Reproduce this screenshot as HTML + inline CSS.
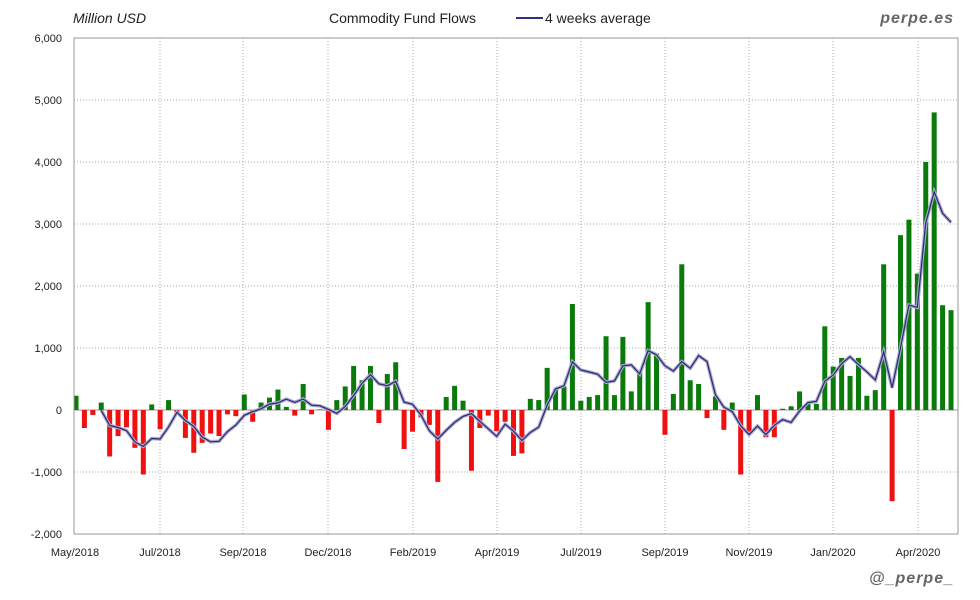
<!DOCTYPE html>
<html><head><meta charset="utf-8"><style>
body{margin:0;background:#fff;}
svg{display:block;font-family:"Liberation Sans",sans-serif;}
</style></head><body>
<svg id="s" width="980" height="600" xmlns="http://www.w3.org/2000/svg">
<rect width="980" height="600" fill="#fff"/>
<text x="73" y="23" font-size="14" font-style="italic" fill="#222">Million USD</text>
<text x="329" y="23" font-size="14" fill="#222">Commodity Fund Flows</text>
<line x1="516" y1="18" x2="543" y2="18" stroke="#33337a" stroke-width="2"/>
<text x="545" y="23" font-size="14" fill="#222">4 weeks average</text>
<text x="954" y="23" font-size="16" font-style="italic" font-weight="bold" fill="#666" text-anchor="end" letter-spacing="1">perpe.es</text>
<text x="954" y="583" font-size="16" font-style="italic" font-weight="bold" fill="#666" text-anchor="end" letter-spacing="1">@_perpe_</text>
<g id="g"></g>
</svg>
<script>
var v=[230,-290,-80,120,-750,-420,-280,-610,-1040,90,-310,160,-80,-450,-690,-530,-380,-420,-70,-100,250,-190,120,200,330,50,-90,420,-70,10,-320,160,380,710,480,710,-210,580,770,-630,-350,-120,-240,-1160,210,390,150,-980,-290,-90,-340,-190,-740,-700,180,160,680,340,380,1710,150,210,240,1190,240,1180,300,610,1740,910,-400,260,2350,480,420,-130,220,-320,120,-1040,-350,240,-440,-440,20,60,300,100,100,1350,700,840,550,840,230,320,2350,-1470,2820,3070,2200,4000,4800,1690,1610];
var L=74,R=958,T=38,B=534;
function Y(x){return 410-x*0.062;}
var h='';
for(var k=-2000;k<=6000;k+=1000){var y=Y(k);
 if(k>-2000&&k<6000)h+='<line x1="'+L+'" y1="'+y+'" x2="'+R+'" y2="'+y+'" stroke="#aaa" stroke-dasharray="1,2"/>';
 h+='<text x="62" y="'+(y+4)+'" font-size="11" fill="#222" text-anchor="end">'+(k<0?'-':'')+(Math.abs(k)>=1000?Math.floor(Math.abs(k)/1000)+','+'000':'0')+'</text>';}
var xl=[[75,'May/2018'],[160,'Jul/2018'],[243,'Sep/2018'],[328,'Dec/2018'],[413,'Feb/2019'],[497,'Apr/2019'],[581,'Jul/2019'],[665,'Sep/2019'],[749,'Nov/2019'],[833,'Jan/2020'],[918,'Apr/2020']];
xl.forEach(function(a,i){if(i>0)h+='<line x1="'+a[0]+'" y1="'+T+'" x2="'+a[0]+'" y2="'+B+'" stroke="#aaa" stroke-dasharray="1,2"/>';
 h+='<text x="'+a[0]+'" y="556" font-size="11" fill="#222" text-anchor="middle">'+a[1]+'</text>';});
h+='<line x1="'+L+'" y1="410" x2="'+R+'" y2="410" stroke="#999"/>';
var n=v.length,st=875/(n-1);
for(var i=0;i<n;i++){var x=76+i*st,y=Y(v[i]);
 h+='<rect x="'+(x-2.5)+'" y="'+Math.min(y,410)+'" width="5" height="'+Math.abs(410-y)+'" fill="'+(v[i]>=0?'#0a7a0a':'#f01010')+'"/>';}
var p='';
for(var i=3;i<n;i++){var a=(v[i]+v[i-1]+v[i-2]+v[i-3])/4;p+=(i==3?'M':'L')+(76+i*st).toFixed(1)+','+Y(a).toFixed(1);}
h+='<path d="'+p+'" fill="none" stroke="#a8a8d0" stroke-width="3.5"/><path d="'+p+'" fill="none" stroke="#2a2a70" stroke-width="1.2"/>';
h+='<rect x="'+L+'" y="'+T+'" width="'+(R-L)+'" height="'+(B-T)+'" fill="none" stroke="#999"/>';
document.getElementById('g').innerHTML=h;
</script>
</body></html>
